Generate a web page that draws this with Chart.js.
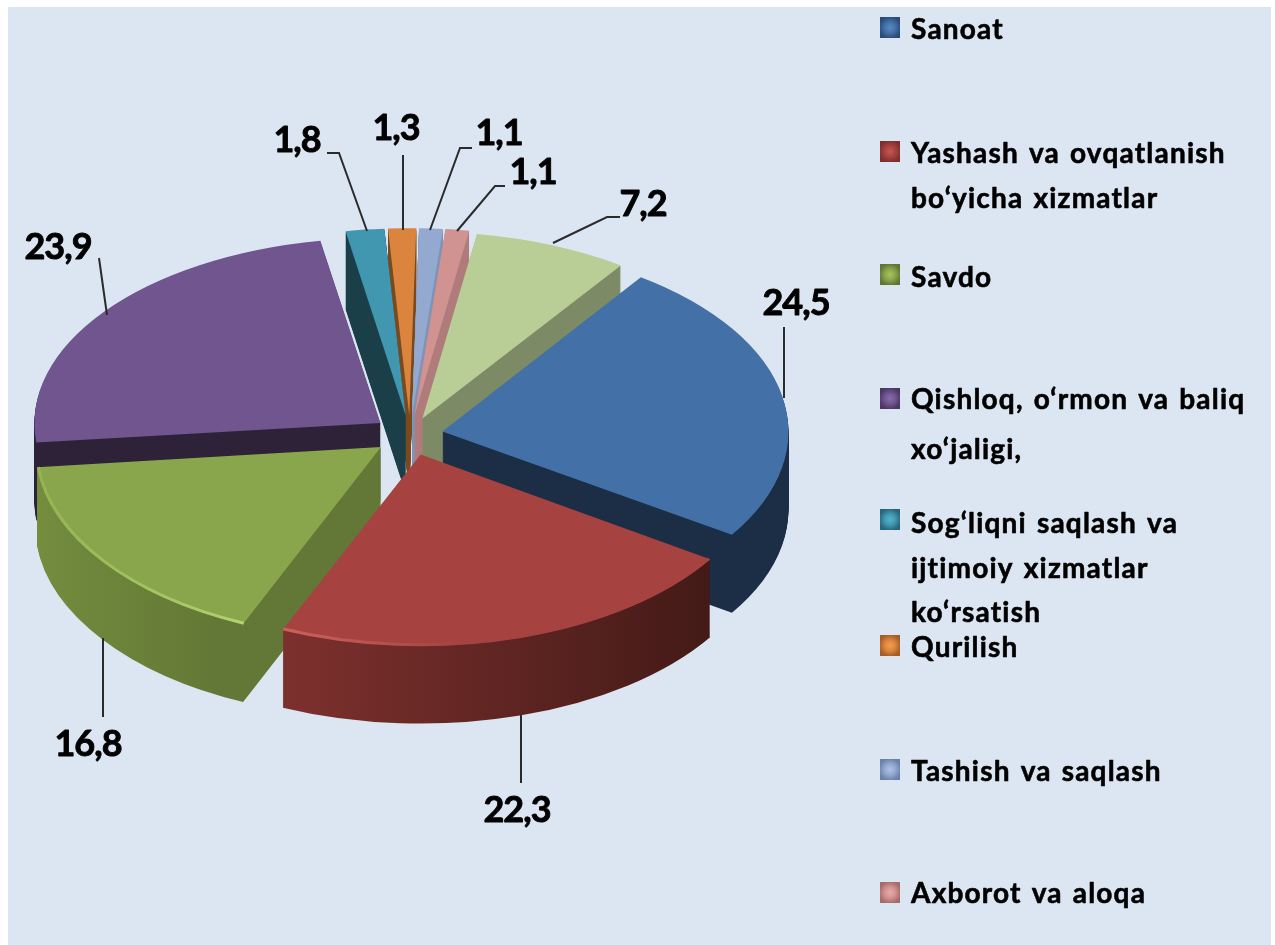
<!DOCTYPE html>
<html>
<head>
<meta charset="utf-8">
<title>Pie</title>
<script src="https://cdn.jsdelivr.net/npm/chart.js@4"></script>
<style>
html,body{margin:0;padding:0;background:#fff;width:1275px;height:945px;overflow:hidden}
#panel{position:absolute;left:8px;top:7px;width:1263px;height:938px;background:#DCE6F2}
canvas{position:absolute;left:0;top:0;filter:blur(0.5px)}
</style>
</head>
<body>
<div id="panel"></div>
<canvas id="c" width="1275" height="945"></canvas>
<script>
const categories = ["Sanoat","Yashash va ovqatlanish bo‘yicha xizmatlar","Savdo","Qishloq, o‘rmon va baliq xo‘jaligi,","Sog‘liqni saqlash va ijtimoiy xizmatlar ko‘rsatish","Qurilish","Tashish va saqlash","Axborot va aloqa",""];
const values = [24.5,22.3,16.8,23.9,1.8,1.3,1.1,1.1,7.2];
const topColors = ["#4371A7","#A64340","#89A64D","#70558E","#4197AF","#DB843D","#93A9CF","#D19392","#B9CD96"];
const wallColors = [["#1B2E45","#1B2E45"],["#7C302D","#431A17"],["#76903F","#637836"],["#6F5A90","#2D2238"],["#1A3F49","#1A3F49"],["#7A4A1E","#7A4A1E"],["#7F93B5","#7F93B5"],["#B07C7B","#B07C7B"],["#7C8B65","#7C8B65"]];
const wallSpans = [[0,1],[283,700],[36,243],[34,39],[0,1],[0,1],[0,1],[0,1],[0,1]];
const rimColors = [null,["#CC625C","#A64340"],["#93B251","#B2D271"],null,null,null,null,null,null];
const rimSpans = [null,[283,460],[36,243],null,null,null,null,null,null];
const explode = [33,37,36,37,37,37,37,37,33];
const squash = [0.545,0.552,0.558,0.535,0.54,0.54,0.54,0.54,0.54];
const wallDepth = 78;

const legendLines = [["Sanoat"],["Yashash va ovqatlanish","bo‘yicha xizmatlar"],["Savdo"],["Qishloq, o‘rmon va baliq","xo‘jaligi,"],["Sog‘liqni saqlash va","ijtimoiy xizmatlar","ko‘rsatish"],["Qurilish"],["Tashish va saqlash"],["Axborot va aloqa"]];
const legendMarkerTop = [17,141,264,388,509,635,759,882];
const legendBaselines = [[39],[163,208],[287],[409,459],[533,578,622],[657],[781],[903]];
const legendDark = ["#2A4C78","#7E2F2C","#5F7532","#4A3763","#266679","#A55D26","#6A82AA","#A66B69"];
const legendLight = ["#5585BE","#C25350","#A1C05C","#8468A8","#4FB0CC","#F09A4C","#A9BFE4","#E6A8A6"];

const labelCentres = [[796,303],[517,810],[88,744],[58,247],[297,140],[396,128],[499,133],[533,172],[643,204]];
const leaders = [
  [[784,327],[784,398]],
  [[521,715],[521,783]],
  [[103,638],[103,717]],
  [[99,258],[107,315]],
  [[327,153],[339,153],[367,231]],
  [[403,155],[403,230]],
  [[430,230],[460,148],[472,148]],
  [[457,231],[495,186],[505,186]],
  [[553,243],[607,217],[620,217]]
];

function place(ctx, el, i, dy){
  const h = (el.startAngle + el.endAngle) / 2, e = explode[i], k = squash[i];
  ctx.translate(el.x + Math.cos(h) * e, el.y + Math.sin(h) * e * k + dy);
  ctx.scale(1, k);
  ctx.translate(-el.x, -el.y);
}
function paint(ctx, el, fill){
  const p = Object.create(el);
  p.options = {offset:0,spacing:0,circular:true,borderAlign:'center',borderRadius:0,borderWidth:0,backgroundColor:fill,borderColor:'transparent'};
  el.draw.call(p, ctx);
}
function boldText(ctx, t, x, y, w){
  ctx.lineWidth = w;
  ctx.strokeStyle = '#000';
  ctx.lineJoin = 'round';
  ctx.strokeText(t, x, y);
  ctx.fillText(t, x, y);
}
const pie3d = {
  id:'pie3d',
  beforeDatasetDraw(chart){
    const ctx = chart.ctx, arcs = chart.getDatasetMeta(0).data;
    const order = arcs.map((a,i)=>i).sort((a,b)=>{
      const m = el => Math.sin((el.startAngle + el.endAngle) / 2);
      return m(arcs[a]) - m(arcs[b]);
    });
    order.forEach(i=>{
      const el = arcs[i];
      const g = ctx.createLinearGradient(wallSpans[i][0], 0, wallSpans[i][1], 0);
      g.addColorStop(0, wallColors[i][0]);
      g.addColorStop(1, wallColors[i][1]);
      for(let dy = wallDepth; dy >= 1; dy--){
        ctx.save();
        place(ctx, el, i, dy);
        paint(ctx, el, g);
        ctx.restore();
      }
    });
    arcs.forEach((el,i)=>{
      ctx.save();
      place(ctx, el, i, 0);
      paint(ctx, el, topColors[i]);
      ctx.restore();
      if(rimColors[i]){
        ctx.save();
        ctx.beginPath();
        place(ctx, el, i, 0);
        ctx.arc(el.x, el.y, el.outerRadius - 1.5, el.startAngle, el.endAngle);
        ctx.restore();
        const g = ctx.createLinearGradient(rimSpans[i][0], 0, rimSpans[i][1], 0);
        g.addColorStop(0, rimColors[i][0]);
        g.addColorStop(1, rimColors[i][1]);
        ctx.strokeStyle = g;
        ctx.lineWidth = 3;
        ctx.stroke();
      }
    });
    return false;
  },
  afterDraw(chart){
    const ctx = chart.ctx;
    ctx.save();
    ctx.strokeStyle = '#2b2b2b';
    ctx.lineWidth = 2;
    leaders.forEach(pts=>{
      ctx.beginPath();
      pts.forEach((p,j)=> j ? ctx.lineTo(p[0],p[1]) : ctx.moveTo(p[0],p[1]));
      ctx.stroke();
    });
    ctx.fillStyle = '#000';
    ctx.textAlign = 'center';
    ctx.textBaseline = 'middle';
    ctx.font = 'bold 36px Lato';
    ctx.letterSpacing = '-1px';
    values.forEach((v,i)=>{
      boldText(ctx, String(v).replace('.',','), labelCentres[i][0], labelCentres[i][1], 0.9);
    });
    ctx.textAlign = 'left';
    ctx.textBaseline = 'alphabetic';
    ctx.font = 'bold 28px Lato';
    ctx.letterSpacing = '1.2px';
    ctx.wordSpacing = '2px';
    legendLines.forEach((lines,i)=>{
      const x = 880, y = legendMarkerTop[i], w = 20, h = 21;
      const r = ctx.createRadialGradient(x+w/2, y+h/2, 1, x+w/2, y+h/2, 11);
      r.addColorStop(0, legendLight[i]);
      r.addColorStop(0.45, topColors[i]);
      r.addColorStop(1, legendDark[i]);
      ctx.fillStyle = r;
      ctx.fillRect(x,y,w,h);
      ctx.fillStyle = '#000';
      lines.forEach((t,j)=> boldText(ctx, t, 911, legendBaselines[i][j], 0.6));
    });
    ctx.restore();
  }
};
new Chart(document.getElementById('c'),{
  type:'pie',
  data:{labels:categories,datasets:[{data:values,backgroundColor:topColors,borderWidth:0}]},
  options:{
    responsive:false,
    animation:false,
    events:[],
    rotation:35,
    radius:346,
    layout:{padding:{left:0,right:455,top:0,bottom:75}},
    plugins:{legend:{display:false},tooltip:{enabled:false},title:{display:false}}
  },
  plugins:[pie3d]
});
</script>
</body>
</html>
